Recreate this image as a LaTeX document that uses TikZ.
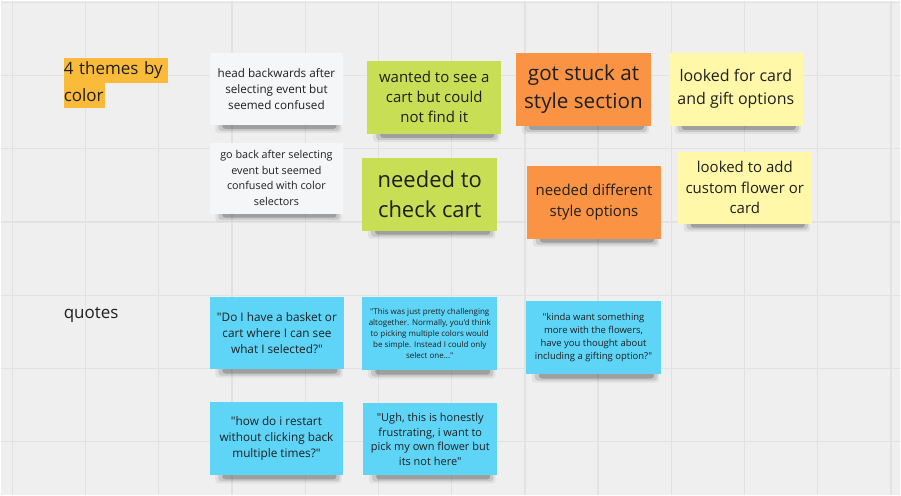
\documentclass[tikz,border=0pt]{standalone}
\usepackage{fontspec}
\setmainfont{Open Sans}[Ligatures=TeXOff]
\usetikzlibrary{calc}
\definecolor{bgc}{HTML}{EFEFEF}
\definecolor{gridc}{HTML}{E2E2E2}
\definecolor{cwhite}{HTML}{F5F6F8}
\definecolor{cgreen}{HTML}{C7DE55}
\definecolor{corange}{HTML}{FA9444}
\definecolor{cyellow}{HTML}{FEF8A8}
\definecolor{cblue}{HTML}{5ED5F7}
\definecolor{chigh}{HTML}{FBBB3A}
\definecolor{txt}{HTML}{1F1F1F}
\newcommand\fsz[2]{\fontsize{#1}{#2}\selectfont}
\pgfdeclarelayer{bg}
\pgfdeclarelayer{shadow}
\pgfsetlayers{bg,shadow,main}
\begin{document}
\begin{tikzpicture}[x=1pt,y=-1pt,
  note/.style={anchor=north west, inner sep=0pt, align=center, text=txt},
  high/.style={anchor=north west, fill=chigh, inner xsep=0pt, inner ysep=0pt, align=left, text=txt, font=\fsz{17}{25}},
  plain/.style={anchor=west, inner sep=0pt, text=txt, font=\fsz{17}{25}},
  sh/.style={fill=black, rounded corners=3pt}]
\begin{pgfonlayer}{bg}
\fill[bgc] (0,0) rectangle (901,495);
\foreach \i in {0,...,12} \draw[gridc, line width=1.3pt] ({11.7+73.33*\i},0) -- ({11.7+73.33*\i},495);
\foreach \j in {0,...,6} \draw[gridc, line width=1.3pt] (0,{1.7+73.33*\j}) -- (901,{1.7+73.33*\j});
\end{pgfonlayer}
\useasboundingbox (0,0) rectangle (901,495);

% headings
\node[high, minimum width=104pt, text width=104pt, minimum height=25pt] (h1) at (63,57) {4 themes by};
\node[high, minimum width=41pt, text width=41pt, minimum height=25pt] (h2) at (63,82) {color};
\node[plain] (qt) at (63,315) {quotes};

% theme notes
\node[note, fill=cwhite, minimum width=134pt, minimum height=72pt, font=\fsz{11.7}{16}] (w1) at (209,52) {head backwards after\\selecting event but\\seemed confused};
\node[note, fill=cwhite, minimum width=134pt, minimum height=71pt, font=\fsz{10.8}{15.5}] (w2) at (209,142) {go back after selecting\\event but seemed\\confused with color\\selectors};
\node[note, fill=cgreen, minimum width=134pt, minimum height=73pt, font=\fsz{15}{20}] (g1) at (367,60) {wanted to see a\\cart but could\\not find it};
\node[note, fill=cgreen, minimum width=135pt, minimum height=73pt, font=\fsz{22}{30}] (g2) at (362,157) {needed to\\check cart};
\node[note, fill=corange, minimum width=135pt, minimum height=73pt, font=\fsz{20.7}{28}] (o1) at (516,52) {got stuck at\\style section};
\node[note, fill=corange, minimum width=134pt, minimum height=73pt, font=\fsz{15}{21}] (o2) at (527,165) {needed different\\style options};
\node[note, fill=cyellow, minimum width=134pt, minimum height=73pt, font=\fsz{16}{23}] (y1) at (669,52) {looked for card\\and gift options};
\node[note, fill=cyellow, minimum width=134pt, minimum height=72pt, font=\fsz{15}{20.5}] (y2) at (678,151) {looked to add\\custom flower or\\card};

% quote notes
\node[note, fill=cblue, minimum width=135pt, minimum height=72pt, font=\fsz{11.8}{16}] (b1) at (209,297) {"Do I have a basket or\\cart where I can see\\what I selected?"};
\node[note, fill=cblue, minimum width=135pt, minimum height=73pt, font=\fsz{8}{11}] (b2) at (362,297) {"This was just pretty challenging\\altogether. Normally, you'd think\\to picking multiple colors would\\be simple. Instead I could only\\select one..."};
\node[note, fill=cblue, minimum width=135pt, minimum height=73pt, font=\fsz{9.5}{13}] (b3) at (526,301) {"kinda want something\\more with the flowers,\\have you thought about\\including a gifting option?"};
\node[note, fill=cblue, minimum width=134pt, minimum height=73pt, font=\fsz{11.8}{16}] (b4) at (209,402) {"how do i restart\\without clicking back\\multiple times?"};
\node[note, fill=cblue, minimum width=134pt, minimum height=72pt, font=\fsz{11}{14.7}] (b5) at (363,403) {"Ugh, this is honestly\\frustrating, i want to\\pick my own flower but\\its not here"};

% shadows
\begin{pgfonlayer}{shadow}
\foreach \n in {w1,w2,g1,g2,o1,o2,y1,y2,b1,b2,b3,b4,b5} {
  \fill[sh, opacity=.06] ($(\n.south west)+(6,-4)$) rectangle ($(\n.south east)+(-2,8)$);
  \fill[sh, opacity=.11] ($(\n.south west)+(9,-3)$) rectangle ($(\n.south east)+(-4,6)$);
  \fill[sh, opacity=.2] ($(\n.south west)+(13,-2)$) rectangle ($(\n.south east)+(-7,4)$);
}
\end{pgfonlayer}
\end{tikzpicture}
\end{document}
